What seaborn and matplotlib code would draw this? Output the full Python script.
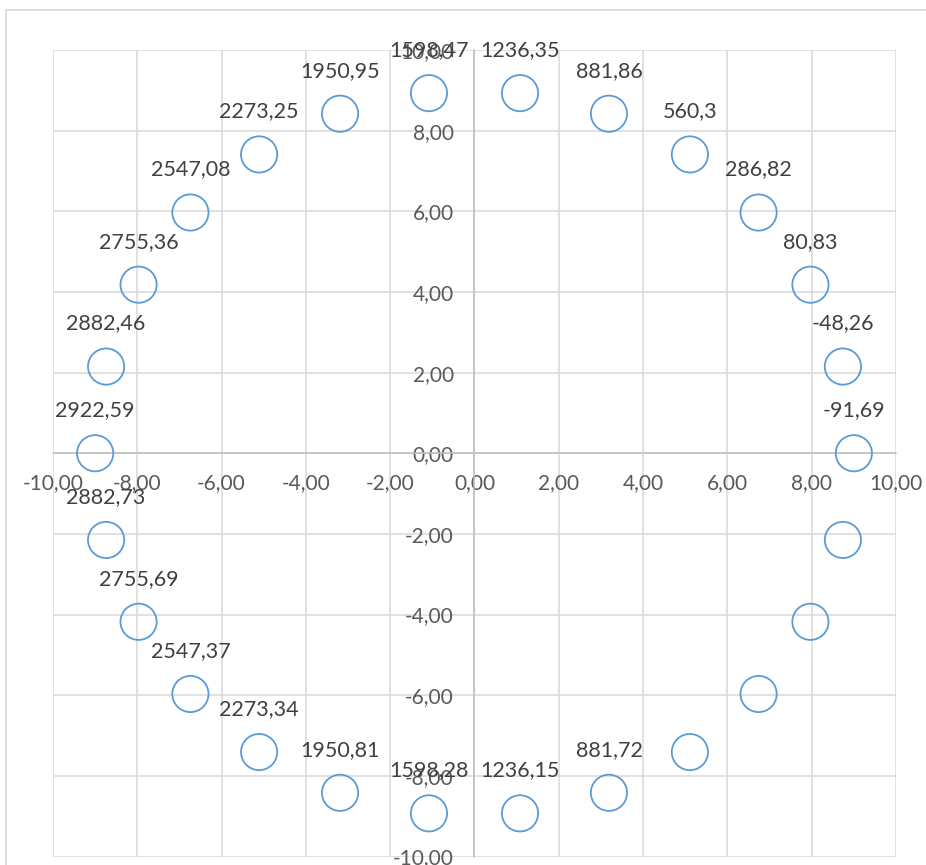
import matplotlib
matplotlib.use("Agg")
import matplotlib.pyplot as plt
import seaborn as sns
import pandas as pd
from matplotlib.ticker import FuncFormatter
from matplotlib.patches import Rectangle

# data
x_vals = [9.00, 8.74, 7.97, 6.74, 5.11, 3.19, 1.08, -1.08, -3.19, -5.11, -6.74, -7.97, -8.74,
          -9.00, -8.74, -7.97, -6.74, -5.11, -3.19, -1.08, 1.08, 3.19, 5.11, 6.74, 7.97, 8.74]
y_vals = [0.00, 2.15, 4.18, 5.97, 7.41, 8.42, 8.93, 8.93, 8.42, 7.41, 5.97, 4.18, 2.15,
          0.00, -2.15, -4.18, -5.97, -7.41, -8.42, -8.93, -8.93, -8.42, -7.41, -5.97, -4.18, -2.15]
labels = ["-91,69", "-48,26", "80,83", "286,82", "560,3", "881,86", "1236,35", "1598,47",
          "1950,95", "2273,25", "2547,08", "2755,36", "2882,46", "2922,59", "2882,73", "2755,69",
          "2547,37", "2273,34", "1950,81", "1598,28", "1236,15", "881,72", "", "", "", ""]
ticks = [-10, -8, -6, -4, -2, 0, 2, 4, 6, 8, 10]

df = pd.DataFrame({"x": x_vals, "y": y_vals, "label": labels})

sns.set_theme(style="white")
plt.rcParams["font.family"] = ["Lato", "DejaVu Sans"]

fig = plt.figure(figsize=(9.26, 8.65), dpi=100)
fig.patches.append(Rectangle((6 / 926, -0.1), 1.2, (865 - 10) / 865 + 0.1, transform=fig.transFigure,
                             fill=False, edgecolor="#d9d9d9", linewidth=1.2))
ax = fig.add_axes([53 / 926, 8.5 / 865, 843 / 926, 806.5 / 865])

sns.scatterplot(data=df, x="x", y="y", ax=ax, s=680, facecolor="none",
                edgecolor="#5B9BD5", linewidth=1.3, zorder=3)

for xv, yv, lab in zip(df["x"], df["y"], df["label"]):
    if lab:
        ax.annotate(lab, (xv, yv), xytext=(0, 31), textcoords="offset points",
                    ha="center", va="center", fontsize=15.5, color="#404040", zorder=4)

ax.set_xlim(-10, 10)
ax.set_ylim(-10, 10)
ax.set_xticks(ticks)
ax.set_yticks(ticks)
fmt = FuncFormatter(lambda v, p: f"{v:.2f}".replace(".", ","))
ax.xaxis.set_major_formatter(fmt)
ax.yaxis.set_major_formatter(fmt)
ax.grid(True, color="#d9d9d9", linewidth=1.1)
ax.set_axisbelow(True)
ax.spines["left"].set_position("zero")
ax.spines["bottom"].set_position("zero")
ax.spines["right"].set_visible(False)
ax.spines["top"].set_visible(False)
for s in ("left", "bottom"):
    ax.spines[s].set_color("#bfbfbf")
    ax.spines[s].set_linewidth(1.1)
ax.tick_params(axis="x", length=0, pad=14, labelsize=15, labelcolor="#595959")
ax.tick_params(axis="y", length=0, pad=15, labelsize=15, labelcolor="#595959")
for t in ax.get_xticklabels() + ax.get_yticklabels():
    t.set_clip_on(False)
ax.set_xlabel("")
ax.set_ylabel("")
ax.set_facecolor("white")

fig.savefig("out.png", dpi=100)
